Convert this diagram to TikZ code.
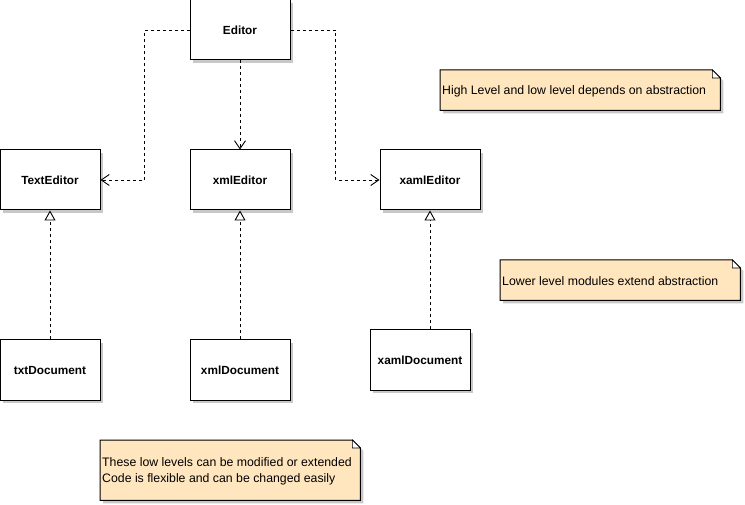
\documentclass[tikz,border=0pt]{standalone}
\usepackage{fontspec}
\setmainfont{Liberation Sans}
\usetikzlibrary{arrows.meta,shadows,backgrounds,calc}
\definecolor{notefill}{HTML}{FFE6BF}
\definecolor{shadowgray}{HTML}{C8C8C8}
\begin{document}
\begin{tikzpicture}[x=1pt,y=-1pt,
  cls/.style={draw=black, fill=white, line width=1pt, minimum width=100pt, minimum height=60pt, inner sep=0pt,
    font=\fontsize{11.8}{13}\selectfont\bfseries,
    drop shadow={shadow xshift=3pt, shadow yshift=-3pt, fill=shadowgray, opacity=1}},
  notebody/.style={anchor=north west, inner sep=0pt},
  notetext/.style={anchor=west, inner sep=2pt, align=left, font=\fontsize{12.3}{16.3}\selectfont},
  dep/.style={draw=black, line width=0.9pt, dash pattern=on 3pt off 3pt, -{Straight Barb[length=8pt,width=11pt]}},
  real/.style={draw=black, line width=0.9pt, dash pattern=on 3pt off 3pt, -{Triangle[length=10pt,width=11pt,fill=white]}}
]
\useasboundingbox (0,0) rectangle (745,505);

% classes
\node[cls] (ed)  at (240,30)  {Editor};
\node[cls] (te)  at (50,180)  {TextEditor};
\node[cls] (xme) at (240,180) {xmlEditor};
\node[cls] (xe)  at (430,180) {xamlEditor};
\node[cls] (td)  at (50,370)  {txtDocument};
\node[cls] (xd)  at (240,370) {xmlDocument};
\node[cls] (xad) at (420,360) {xamlDocument};

% notes
\node[notebody, minimum width=280pt, minimum height=40pt] (n1) at (440,70) {};
\node[notetext] (n1t) at ($(n1.west)+(0,1)$) {High Level and low level depends on abstraction};
\node[notebody, minimum width=240pt, minimum height=40pt] (n2) at (500,260) {};
\node[notetext] (n2t) at ($(n2.west)+(0,1)$) {Lower level modules extend abstraction};
\node[notebody, minimum width=260pt, minimum height=60pt] (n3) at (100,440) {};
\node[notetext] (n3t) at ($(n3.west)+(0,1)$) {These low levels can be modified or extended\\Code is flexible and can be changed easily};

\begin{scope}[on background layer]
  \foreach \n in {n1,n2,n3}{
    \fill[shadowgray] ($(\n.north west)+(3,3)$) -- ($(\n.north east)+(-5,3)$) -- ($(\n.north east)+(3,11)$) -- ($(\n.south east)+(3,3)$) -- ($(\n.south west)+(3,3)$) -- cycle;
    \draw[fill=notefill, line width=1pt] (\n.north west) -- ($(\n.north east)+(-8,0)$) -- ($(\n.north east)+(0,8)$) -- (\n.south east) -- (\n.south west) -- cycle;
    \draw[fill=white, line width=0.6pt] ($(\n.north east)+(-8,0)$) -- ($(\n.north east)+(-8,8)$) -- ($(\n.north east)+(0,8)$) -- cycle;
  }
\end{scope}

% dependencies
\draw[dep] (ed.west) -- ++(-45,0) |- (te.east);
\draw[dep] (ed.south) -- (xme.north);
\draw[dep] (ed.east) -- ++(45,0) |- (xe.west);

% realizations
\draw[real] (td.north) -- (te.south);
\draw[real] (xd.north) -- (xme.south);
\draw[real] (xe.south |- xad.north) -- (xe.south);
\end{tikzpicture}
\end{document}
